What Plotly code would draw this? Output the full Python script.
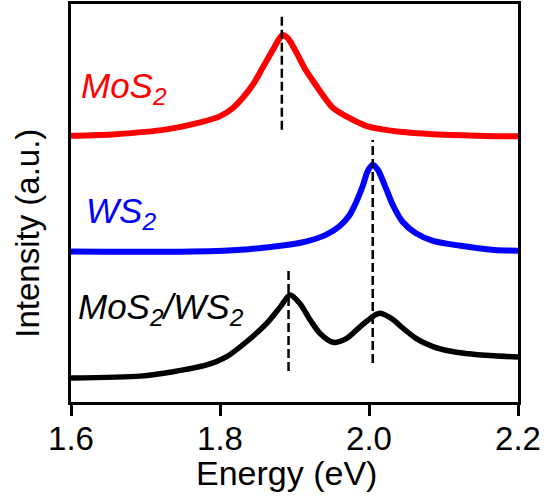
import plotly.graph_objects as go

# ---- data ----
mos2_energy = [1.600, 1.660, 1.728, 1.772, 1.799, 1.817, 1.830, 1.844, 1.857, 1.871,
               1.880, 1.884, 1.891, 1.902, 1.915, 1.924, 1.938, 1.951, 1.974, 1.996,
               2.018, 2.041, 2.086, 2.130, 2.168, 2.200]
mos2_int = [66.9, 67.3, 68.5, 70.2, 71.7, 73.8, 76.3, 79.7, 83.9, 88.5,
            91.4, 92.2, 91.4, 88.0, 83.4, 80.9, 77.1, 74.0, 71.3, 69.4,
            68.5, 67.9, 67.3, 67.0, 66.8, 66.8]

ws2_energy = [1.600, 1.763, 1.839, 1.884, 1.915, 1.942, 1.960, 1.974, 1.983, 1.992,
              1.998, 2.005, 2.012, 2.021, 2.032, 2.045, 2.063, 2.086, 2.121, 2.168, 2.200]
ws2_int = [37.8, 37.8, 38.4, 39.3, 40.3, 42.0, 44.1, 47.0, 50.3, 54.5,
           57.9, 59.6, 58.3, 54.5, 49.5, 45.3, 42.4, 40.5, 39.3, 38.2, 38.0]

het_energy = [1.600, 1.693, 1.737, 1.782, 1.809, 1.836, 1.863, 1.881, 1.894, 1.907,
              1.921, 1.934, 1.952, 1.970, 1.988, 2.006, 2.015, 2.033, 2.042, 2.063,
              2.086, 2.108, 2.130, 2.168, 2.200]
het_int = [6.0, 6.5, 7.6, 9.3, 11.4, 15.2, 19.8, 23.9, 26.9, 24.8,
           20.6, 17.3, 15.0, 16.0, 18.9, 21.6, 22.3, 20.6, 19.1, 16.0,
           13.9, 12.8, 12.2, 11.6, 11.3]

# peak marker lines: energy, lower and upper intensity
peak_energy = [1.883, 2.005, 1.892]
peak_low = [68.4, 9.8, 7.8]
peak_high = [97.5, 65.8, 33.7]

labels = ["MoS<sub>2</sub>", "WS<sub>2</sub>", "MoS<sub>2</sub>/WS<sub>2</sub>"]
label_energy = [1.611, 1.618, 1.607]
label_int = [79.0, 47.6, 23.4]
colors = ["#ff0000", "#0000ff", "#000000"]

tick_vals = [1.6, 1.8, 2.0, 2.2]
tick_text = ["1.6", "1.8", "2.0", "2.2"]

FONT = "Liberation Sans, Arial, sans-serif"

fig = go.Figure()
for xs, ys, c, w in [(mos2_energy, mos2_int, colors[0], 6),
                     (ws2_energy, ws2_int, colors[1], 6),
                     (het_energy, het_int, colors[2], 5.5)]:
    fig.add_trace(go.Scatter(x=xs, y=ys, mode="lines",
                             line=dict(color=c, width=w, shape="spline", smoothing=0.8),
                             showlegend=False, hoverinfo="skip"))

for e, lo, hi in zip(peak_energy, peak_low, peak_high):
    fig.add_trace(go.Scatter(x=[e, e], y=[lo, hi], mode="lines",
                             line=dict(color="black", width=2.5, dash="9px,4px"),
                             showlegend=False, hoverinfo="skip"))

for t, e, i, c in zip(labels, label_energy, label_int, colors):
    fig.add_annotation(x=e, y=i, xref="x", yref="y", text=t, showarrow=False,
                       xanchor="left", yanchor="middle",
                       font=dict(family=FONT, size=35, color=c, style="italic"))

fig.add_annotation(x=-0.096, y=0.423, xref="paper", yref="paper",
                   text="Intensity (a.u.)", textangle=-90, showarrow=False,
                   xanchor="center", yanchor="middle",
                   font=dict(family=FONT, size=33, color="black"))
fig.add_annotation(x=0.482, y=-0.178, xref="paper", yref="paper",
                   text="Energy (eV)", showarrow=False,
                   xanchor="center", yanchor="middle",
                   font=dict(family=FONT, size=34, color="black"))

fig.update_layout(
    width=548, height=504,
    margin=dict(l=71, r=30, t=4, b=102),
    paper_bgcolor="white", plot_bgcolor="white",
    xaxis=dict(range=[1.6, 2.2], tickvals=tick_vals, ticktext=tick_text,
               ticks="outside", ticklen=11, tickwidth=3, tickcolor="black",
               ticklabelstandoff=-6,
               showline=True, linewidth=3, linecolor="black", mirror=True,
               showgrid=False, zeroline=False, automargin=False,
               tickfont=dict(family=FONT, size=33, color="black")),
    yaxis=dict(range=[0, 100], showticklabels=False, ticks="",
               showline=True, linewidth=3, linecolor="black", mirror=True,
               showgrid=False, zeroline=False, automargin=False),
)

fig.write_html("out.html", config={"displayModeBar": False},
               post_script="document.body.style.margin='0';document.body.style.overflow='hidden';")
